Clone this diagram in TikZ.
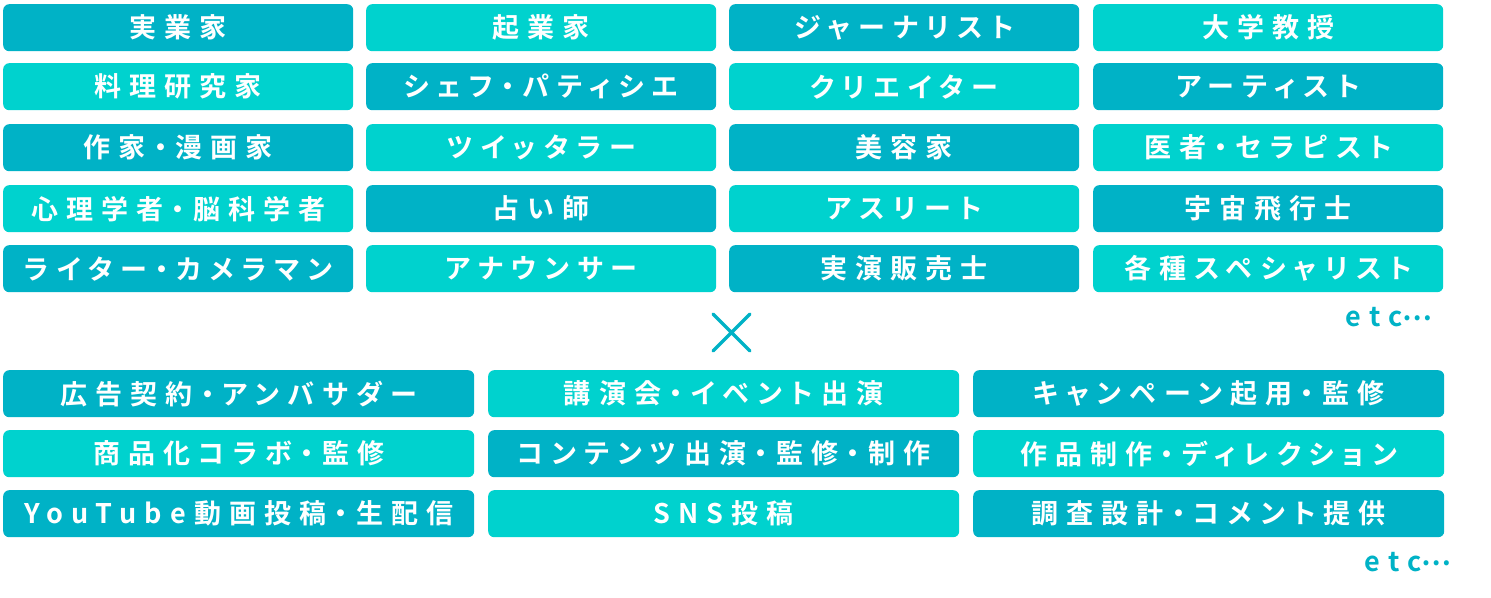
\documentclass[tikz,border=0pt]{standalone}
\usepackage{fontspec}
\setmainfont{Noto Sans CJK JP}[BoldFont={* Bold},LetterSpace=30,RawFeature=+palt]
\newfontfamily\etcfont{Noto Sans CJK JP Bold}[LetterSpace=30]
\definecolor{dk}{HTML}{00B2C6}
\definecolor{lt}{HTML}{00D2CE}
\begin{document}
\begin{tikzpicture}[x=1pt,y=-1pt,
  box/.style={rounded corners=6pt,minimum height=47pt,inner sep=0pt,text=white,font=\bfseries\fontsize{27}{27}\selectfont,anchor=north west},
  tb/.style={box,minimum width=350pt},
  bb/.style={box,minimum width=471pt},
  etc/.style={text=dk,font=\etcfont\fontsize{27}{27}\selectfont,inner sep=0pt}]
\useasboundingbox (0,0) rectangle (1491,597);
\def\tx{{3,366,729,1093}}
\def\ty{{4,63,124,185,245}}
\foreach \t [count=\i from 0] in {実業家,起業家,ジャーナリスト,大学教授,料理研究家,シェフ・パティシエ,クリエイター,アーティスト,作家・漫画家,ツイッタラー,美容家,医者・セラピスト,心理学者・脳科学者,占い師,アスリート,宇宙飛行士,ライター・カメラマン,アナウンサー,実演販売士,各種スペシャリスト}{
  \pgfmathtruncatemacro\r{div(\i,4)}
  \pgfmathtruncatemacro\c{mod(\i,4)}
  \pgfmathsetmacro\xx{\tx[\c]}
  \pgfmathsetmacro\yy{\ty[\r]}
  \pgfmathtruncatemacro\p{mod(\r+\c,2)}
  \ifnum\p=0 \def\cl{dk}\else\def\cl{lt}\fi
  \node[tb,fill=\cl] (t\i) at (\xx,\yy) {\t};
}
\def\bx{{3,488,973}}
\def\by{{370,430,490}}
\foreach \t [count=\i from 0] in {広告契約・アンバサダー,講演会・イベント出演,キャンペーン起用・監修,商品化コラボ・監修,コンテンツ出演・監修・制作,作品制作・ディレクション,YouTube動画投稿・生配信,SNS投稿,調査設計・コメント提供}{
  \pgfmathtruncatemacro\r{div(\i,3)}
  \pgfmathtruncatemacro\c{mod(\i,3)}
  \pgfmathsetmacro\xx{\bx[\c]}
  \pgfmathsetmacro\yy{\by[\r]}
  \pgfmathtruncatemacro\p{mod(\r+\c,2)}
  \ifnum\p=0 \def\cl{dk}\else\def\cl{lt}\fi
  \node[bb,fill=\cl] (b\i) at (\xx,\yy) {\t};
}
\node[etc] (etc1) at (1389,317) {etc\raisebox{0.22em}{…}};
\node[etc] (etc2) at (1408,562) {etc\raisebox{0.22em}{…}};
\coordinate (x1) at (713,314);
\coordinate (x2) at (750,351);
\coordinate (x3) at (750,314);
\coordinate (x4) at (713,351);
\draw[dk,line width=3.5pt,line cap=round] (x1) -- (x2) (x3) -- (x4);
\end{tikzpicture}
\end{document}
